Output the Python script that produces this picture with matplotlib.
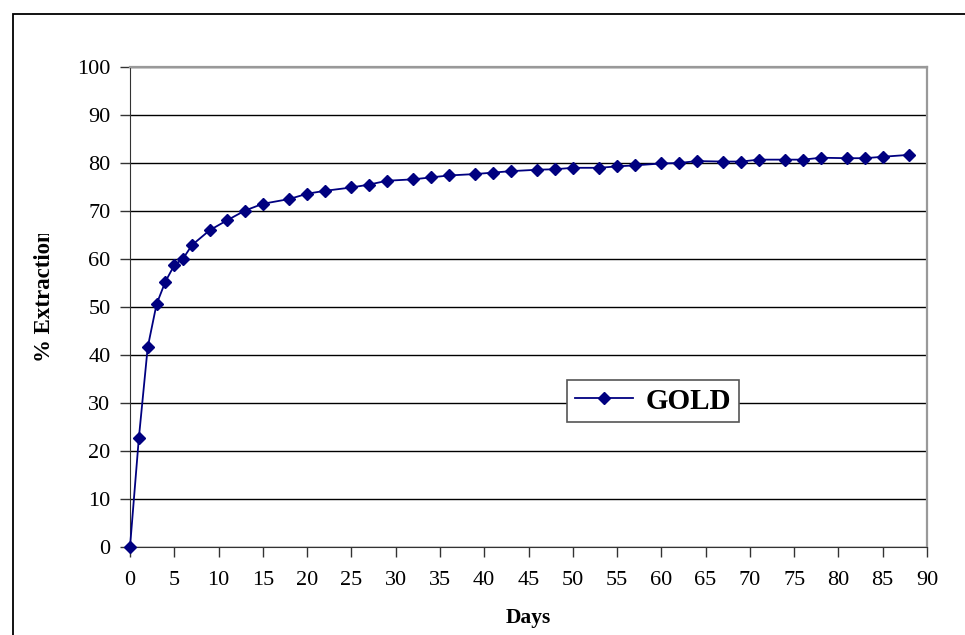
import matplotlib
matplotlib.use("Agg")
import matplotlib.pyplot as plt
from matplotlib.patches import Rectangle
from matplotlib.transforms import Bbox

# leach test: cumulative gold extraction by day
days = [0, 1, 2, 3, 4, 5, 6, 7, 9, 11, 13, 15, 18, 20, 22, 25, 27, 29, 32, 34,
        36, 39, 41, 43, 46, 48, 50, 53, 55, 57, 60, 62, 64, 67, 69, 71, 74, 76,
        78, 81, 83, 85, 88]
gold = [0.0, 22.7, 41.6, 50.6, 55.3, 58.7, 60.1, 62.9, 66.0, 68.1, 70.1, 71.5,
        72.5, 73.6, 74.2, 74.9, 75.5, 76.3, 76.6, 77.0, 77.4, 77.7, 78.0, 78.3,
        78.6, 78.7, 79.0, 79.0, 79.3, 79.5, 79.9, 80.0, 80.4, 80.3, 80.3, 80.7,
        80.7, 80.7, 81.1, 81.0, 81.0, 81.3, 81.7]

x_ticks = list(range(0, 91, 5))
y_ticks = list(range(0, 101, 10))

plt.rcParams['font.family'] = ['Liberation Serif', 'DejaVu Serif']

W, H = 965, 635
fig = plt.figure(figsize=(W / 100, H / 100), dpi=100)
fig.patch.set_facecolor('white')

# outer chart frame, runs off the right and bottom edge
fig.add_artist(Rectangle((13 / W, -0.2), 2, 1.2 - 14 / H, transform=fig.transFigure,
                         fill=False, edgecolor='black', lw=1.3))

left, right, top, bottom = 130, 927, 67, 547
ax = fig.add_axes([left / W, 1 - bottom / H, (right - left) / W, (bottom - top) / H])

ax.plot(days, gold, color='#000080', lw=1.3, marker='D', markersize=6.5,
        markerfacecolor='#000080', markeredgecolor='#000080', label='GOLD',
        zorder=3, clip_on=False)

ax.set_xlim(0, 90)
ax.set_ylim(0, 100)
ax.set_xticks(x_ticks)
ax.set_yticks(y_ticks)
ax.tick_params(axis='both', direction='out', length=7, width=1, color='#333333',
               labelsize=16, labelcolor='black')
ax.tick_params(axis='x', pad=10)
ax.tick_params(axis='y', pad=7)

ax.yaxis.grid(True, color='black', lw=1)
ax.set_axisbelow(True)
for side in ['top', 'right']:
    ax.spines[side].set_color('#999999')
    ax.spines[side].set_linewidth(1.6)
ax.spines['left'].set_color('#333333')
ax.spines['bottom'].set_color('#333333')

ax.set_xlabel('Days', fontsize=15.5, fontweight='bold', labelpad=13)

ylab = fig.text(45 / W, 1 - 362 / H, '% Extraction', rotation=90, fontsize=16.5,
                fontweight='bold', ha='center', va='bottom')
# label is cut short at its top end
ylab.set_clip_box(Bbox([[0, 0], [200, H - 234]]))
ylab.set_clip_on(True)

leg = ax.legend(loc='upper left', bbox_to_anchor=(0.5483, 0.348), borderaxespad=0,
                fancybox=False, edgecolor='#555555', framealpha=1,
                prop={'weight': 'bold', 'size': 21}, handlelength=2.0,
                handletextpad=0.45, borderpad=0.26)
leg.get_frame().set_linewidth(1.2)

fig.savefig('out.png', dpi=100)
